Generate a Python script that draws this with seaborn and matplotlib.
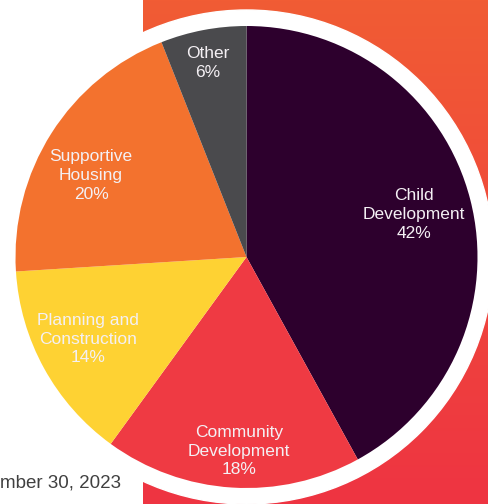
import numpy as np
import matplotlib
matplotlib.use("Agg")
import matplotlib.pyplot as plt
import seaborn as sns
from matplotlib.patches import Circle

# data
categories = ["Child\nDevelopment", "Community\nDevelopment", "Planning and\nConstruction",
              "Supportive\nHousing", "Other"]
shares = [42, 18, 14, 20, 6]
slice_colors = ["#2D002D", "#EF3A43", "#FED233", "#F3722E", "#4A4A4D"]
footnote = "mber 30, 2023"

# label anchor offsets from the pie centre, in units of the radius
label_offsets = [(0.725, 0.182), (-0.032, -0.840), (-0.686, -0.355),
                 (-0.673, 0.351), (-0.167, 0.840)]

sns.set_theme(style="white")
plt.rcParams["font.family"] = ["Liberation Sans", "DejaVu Sans"]

W, H = 488, 504
fig = plt.figure(figsize=(W / 100, H / 100), dpi=100)
ax = fig.add_axes([0, 0, 1, 1])

# orange -> red gradient panel behind the right part of the pie
top = np.array([241, 92, 52]) / 255
bot = np.array([238, 52, 66]) / 255
t = np.linspace(0, 1, 256)[:, None]
grad = (top * (1 - t) + bot * t)[:, None, :]
ax.imshow(grad, extent=[143, W, 0, H], aspect="auto", zorder=0)

cx, cy, r = 246.5, H - 257, 231
ax.add_patch(Circle((cx, cy), 247, color="white", zorder=1))

wedges, _ = ax.pie(shares, colors=slice_colors, startangle=90, counterclock=False,
                   center=(cx, cy), radius=r, frame=True,
                   wedgeprops=dict(linewidth=0, zorder=2))
ax.set_xlim(0, W)
ax.set_ylim(0, H)
ax.set_aspect("auto")
ax.axis("off")

for lab, pct, (fx, fy) in zip(categories, shares, label_offsets):
    ax.text(cx + fx * r, cy + fy * r, f"{lab}\n{pct}%", ha="center", va="center",
            color="#F4F0F4", fontsize=12.5, linespacing=1.33, zorder=3)

ax.text(0, H - 483, footnote, ha="left", va="center", color="#404040", fontsize=13.5)

fig.savefig("out.png", dpi=100)
